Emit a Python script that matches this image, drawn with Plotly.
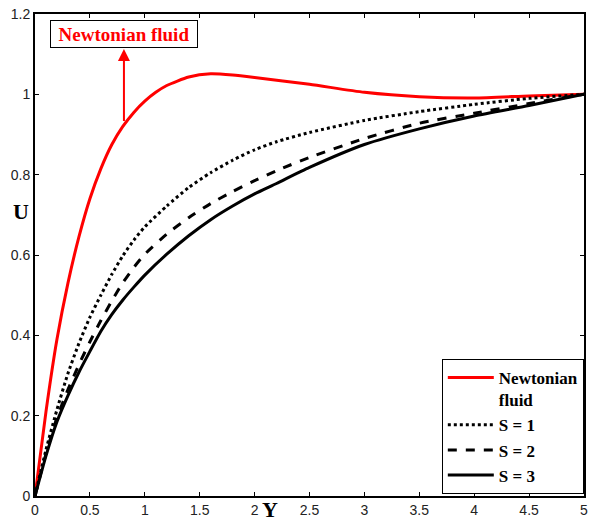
import plotly.graph_objects as go

# Newtonian fluid profile
x_newt = [0, 0.1, 0.2, 0.3, 0.4, 0.5, 0.6, 0.7, 0.8, 0.9, 1.0, 1.1, 1.2, 1.4, 1.6, 1.8, 2.0, 2.5, 3.0, 3.5, 4.0, 4.5, 5.0]
u_newt = [0, 0.21, 0.39, 0.53, 0.645, 0.74, 0.815, 0.875, 0.92, 0.955, 0.983, 1.005, 1.022, 1.043, 1.051, 1.048, 1.042, 1.025, 1.005, 0.994, 0.991, 0.996, 1.0]

# S curves
x_s = [0, 0.1, 0.2, 0.3, 0.4, 0.5, 0.6, 0.7, 0.8, 0.9, 1.0, 1.2, 1.4, 1.6, 1.8, 2.0, 2.2, 2.5, 3.0, 3.5, 4.0, 4.5, 5.0]
u_s1 = [0, 0.115, 0.215, 0.305, 0.38, 0.445, 0.50, 0.552, 0.598, 0.637, 0.67, 0.722, 0.768, 0.805, 0.836, 0.862, 0.882, 0.905, 0.935, 0.957, 0.975, 0.99, 1.0]
u_s2 = [0, 0.105, 0.195, 0.265, 0.327, 0.384, 0.437, 0.486, 0.531, 0.569, 0.602, 0.652, 0.693, 0.728, 0.758, 0.785, 0.81, 0.843, 0.89, 0.928, 0.953, 0.977, 1.0]
u_s3 = [0, 0.10, 0.185, 0.25, 0.308, 0.36, 0.41, 0.452, 0.488, 0.52, 0.55, 0.602, 0.648, 0.688, 0.722, 0.752, 0.778, 0.818, 0.875, 0.914, 0.946, 0.972, 1.0]

x_ticks = [0, 0.5, 1, 1.5, 2, 2.5, 3, 3.5, 4, 4.5, 5]
x_ticklabels = ["0", "0.5", "1", "1.5", "2", "2.5", "3", "3.5", "4", "4.5", "5"]
y_ticks = [0, 0.2, 0.4, 0.6, 0.8, 1, 1.2]
y_ticklabels = ["0", "0.2", "0.4", "0.6", "0.8", "1", "1.2"]

serif = "Liberation Serif"
sans = "Liberation Sans"

fig = go.Figure()
fig.add_trace(go.Scatter(x=x_newt, y=u_newt, mode="lines", name="<b>Newtonian<br>fluid</b>",
                         line=dict(color="#ff0000", width=3, shape="spline", smoothing=0.6),
                         legendgroup="a"))
fig.add_trace(go.Scatter(x=x_s, y=u_s1, mode="lines", name="<b>S = 1</b>",
                         line=dict(color="black", width=3, dash="dot", shape="spline", smoothing=0.6),
                         legendgroup="b"))
fig.add_trace(go.Scatter(x=x_s, y=u_s2, mode="lines", name="<b>S = 2</b>",
                         line=dict(color="black", width=3, dash="dash", shape="spline", smoothing=0.6),
                         legendgroup="c"))
fig.add_trace(go.Scatter(x=x_s, y=u_s3, mode="lines", name="<b>S = 3</b>",
                         line=dict(color="black", width=3, shape="spline", smoothing=0.6),
                         legendgroup="d"))

axis_common = dict(showgrid=False, zeroline=False, showline=True, linecolor="black", linewidth=2,
                   mirror="ticks", ticks="inside", ticklen=4, tickcolor="black", tickwidth=1,
                   tickfont=dict(family=sans, size=14, color="#222222"))

fig.update_xaxes(range=[0, 5], tickvals=x_ticks, ticktext=x_ticklabels, **axis_common)
fig.update_yaxes(range=[0, 1.2], tickvals=y_ticks, ticktext=y_ticklabels, **axis_common)

fig.add_annotation(x=0.81, y=1.113, ax=0.81, ay=0.93, xref="x", yref="y", axref="x", ayref="y",
                   text="", showarrow=True, arrowhead=2, arrowsize=1.2, arrowwidth=2, arrowcolor="#ff0000")
fig.add_annotation(x=0.81, y=1.149, xref="x", yref="y", text="<b>Newtonian fluid</b>", showarrow=False,
                   font=dict(family=serif, size=19, color="#ff0000"), bordercolor="black", borderwidth=1,
                   bgcolor="white", width=144, height=24, borderpad=1)
fig.add_annotation(x=-0.025, y=0.591, xref="paper", yref="paper", xanchor="center", yanchor="middle",
                   text="<b>U</b>", showarrow=False,
                   font=dict(family=serif, size=22, color="black"))
fig.add_annotation(x=0.4286, y=-0.029, xref="paper", yref="paper", xanchor="center", yanchor="middle",
                   text="<b>Y</b>", showarrow=False,
                   font=dict(family=serif, size=22, color="black"))

fig.update_layout(
    width=592, height=522,
    margin=dict(l=35, r=4, t=14, b=24),
    paper_bgcolor="white", plot_bgcolor="white",
    showlegend=True,
    legend=dict(x=0.741, y=0.004, xanchor="left", yanchor="bottom",
                bordercolor="black", borderwidth=1, bgcolor="white",
                font=dict(family=serif, size=17, color="black"),
                tracegroupgap=0, itemwidth=46, valign="top"),
)

fig.write_html("out.html")
